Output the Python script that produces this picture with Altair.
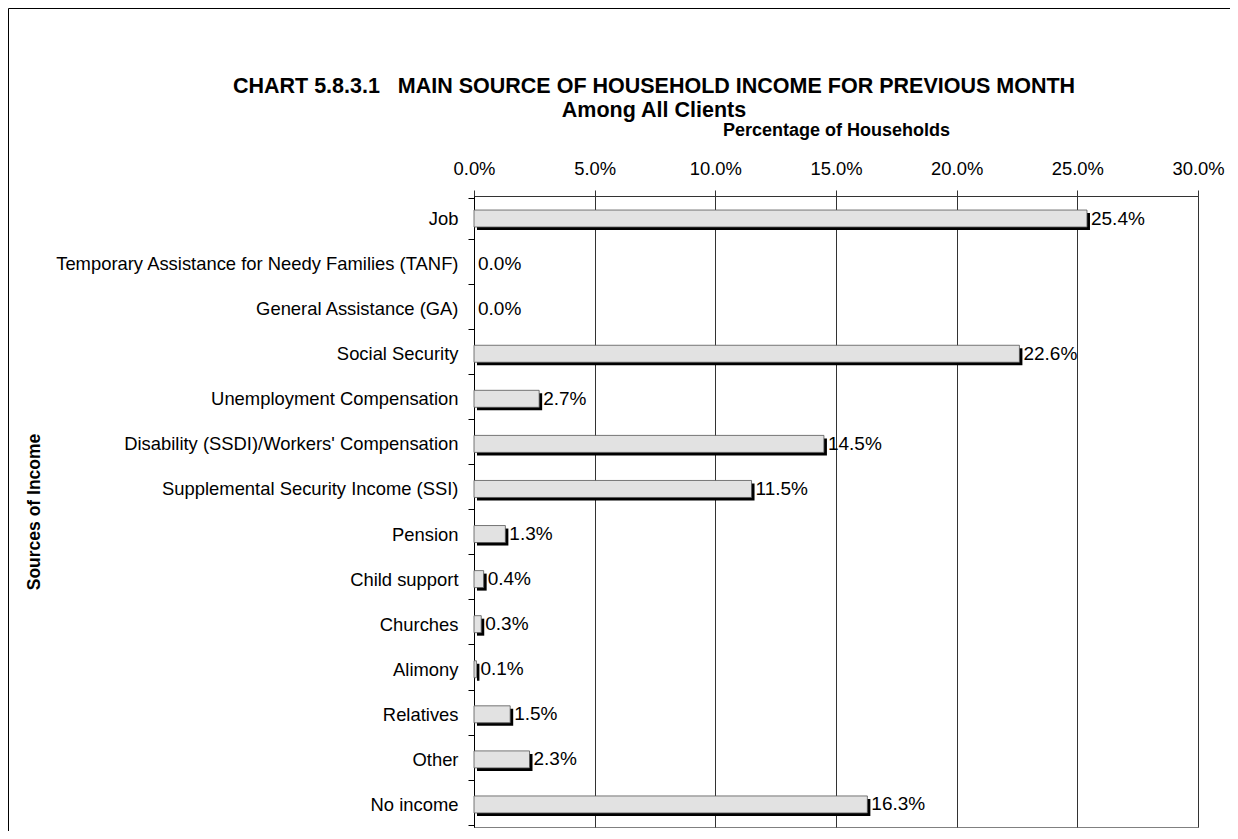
import altair as alt
import pandas as pd

categories = [
    "Job",
    "Temporary Assistance for Needy Families (TANF)",
    "General Assistance (GA)",
    "Social Security",
    "Unemployment Compensation",
    "Disability (SSDI)/Workers' Compensation",
    "Supplemental Security Income (SSI)",
    "Pension",
    "Child support",
    "Churches",
    "Alimony",
    "Relatives",
    "Other",
    "No income",
]
values = [25.4, 0.0, 0.0, 22.6, 2.7, 14.5, 11.5, 1.3, 0.4, 0.3, 0.1, 1.5, 2.3, 16.3]
tick_values = [0, 5, 10, 15, 20, 25, 30]

df = pd.DataFrame({
    "source": categories,
    "pct": values,
    "label": [f"{v:.1f}%" for v in values],
})

FONT = "Liberation Sans"
FS = 18.4
W, H = 724, 631
BAR = 17

x_enc = alt.X(
    "pct:Q",
    scale=alt.Scale(domain=[0, 30], nice=False, zero=True),
    axis=alt.Axis(
        orient="top",
        values=tick_values,
        labelExpr="format(datum.value, '.1f') + '%'",
        title="Percentage of Households",
        titleFont=FONT, titleFontSize=18, titleFontWeight="bold", titleColor="black",
        titleX=W / 2, titleY=-66, titleAlign="center", titleBaseline="middle",
        labelFont=FONT, labelFontSize=FS, labelColor="black", labelPadding=12,
        labelFlush=False, labelOverlap=False,
        tickSize=6, tickColor="#333333", domainColor="#333333",
        grid=True, gridColor="#333333", gridWidth=1,
    ),
)
y_enc = alt.Y(
    "source:N",
    sort=categories,
    axis=alt.Axis(
        title="Sources of Income",
        titleFont=FONT, titleFontSize=17.5, titleFontWeight="bold", titleColor="black",
        titleX=-440, titleY=H / 2, titleAlign="center", titleBaseline="middle", titleAngle=270,
        labelFont=FONT, labelFontSize=FS, labelColor="black", labelLimit=600, labelPadding=10,
        tickBand="extent", tickSize=6, tickColor="black", domainColor="black",
        grid=False,
    ),
)

base = alt.Chart(df).encode(y=y_enc)
bars_df = base.transform_filter("datum.pct > 0")

shadow = bars_df.mark_bar(size=BAR, color="black", xOffset=3, yOffset=3).encode(x=x_enc)
front = bars_df.mark_bar(size=BAR, fill="#e2e2e2", stroke="#555555", strokeWidth=0.8).encode(x=x_enc)
text = base.mark_text(align="left", baseline="middle", dx=4, font=FONT, fontSize=19, color="black").encode(
    x=alt.X("pct:Q"), text="label:N"
)
frame_src = pd.DataFrame({"f": [0]})
frame_left = alt.Chart(frame_src).mark_rule(color="black", strokeWidth=1).encode(
    x=alt.value(-465.5), y=alt.value(-187.5), y2=alt.value(700)
)
frame_top = alt.Chart(frame_src).mark_rule(color="black", strokeWidth=1).encode(
    x=alt.value(-465.5), x2=alt.value(900), y=alt.value(-187.5)
)

chart = alt.layer(frame_left, frame_top, shadow, front, text).properties(
    width=W,
    height=H,
    padding={"left": 466, "top": 188, "right": 32, "bottom": 4},
    autosize=alt.AutoSizeParams(type="none"),
    title=alt.TitleParams(
        text=["CHART 5.8.3.1\u00a0\u00a0\u00a0MAIN SOURCE OF HOUSEHOLD INCOME FOR PREVIOUS MONTH", "Among All Clients"],
        font=FONT, fontSize=21.5, fontWeight="bold", color="black",
        anchor="middle", frame="group", dx=-182, offset=-113, lineHeight=24,
    ),
).configure_view(stroke="#808080", strokeWidth=1)

chart.save("out.html", embed_options={"renderer": "svg", "actions": False})
